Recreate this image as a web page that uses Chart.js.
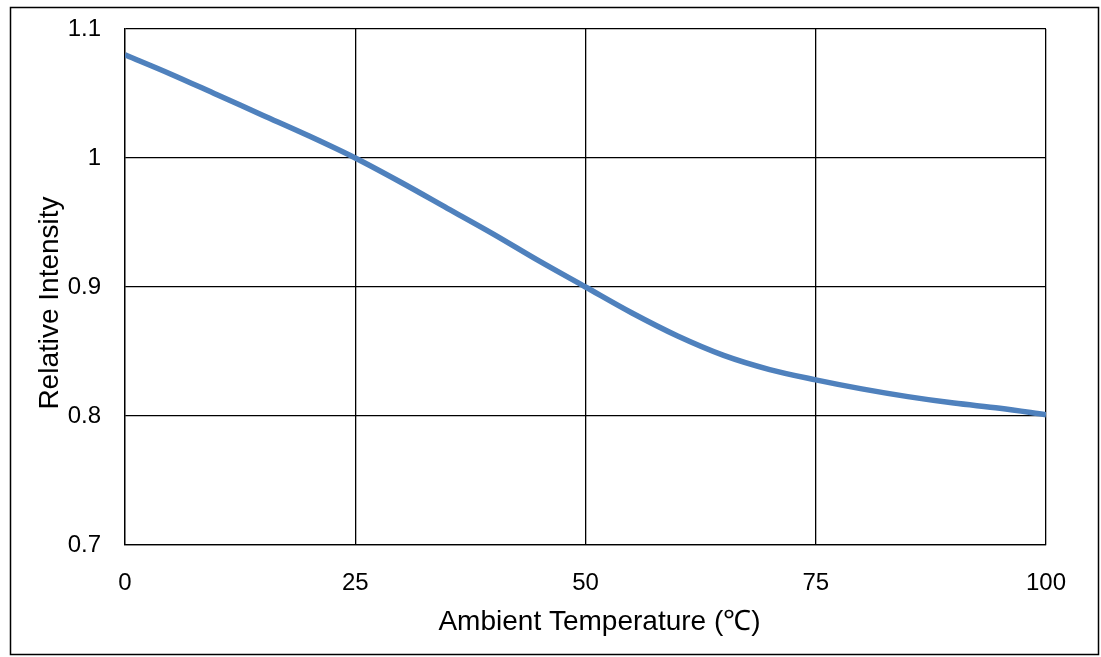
<!DOCTYPE html>
<html><head><meta charset="utf-8">
<script src="https://cdn.jsdelivr.net/npm/chart.js@4.4.1/dist/chart.umd.min.js"></script>
<style>html,body{margin:0;padding:0;background:#fff;}#wrap{position:relative;width:1101px;height:657px;}</style>
</head><body><div id="wrap"><canvas id="c" width="1101" height="657"></canvas></div>
<script>
const temperatures = [0,5,10,15,20,25,30,35,40,45,50,55,60,65,70,75,80,85,90,95,100];
const relativeIntensity = [1.08,1.065,1.049,1.033,1.017,1.0,0.981,0.961,0.941,0.92,0.9,0.88,0.862,0.847,0.836,0.828,0.821,0.815,0.81,0.806,0.801];
const xTicks = [0,25,50,75,100];
const yTicks = [0.7,0.8,0.9,1.0,1.1];
const xTitle = 'Ambient Temperature (\u2103)';
const yTitle = 'Relative Intensity';

const FONT = 'Arial, "Liberation Sans", sans-serif';
const frameAndTitles = {
  id:'frameAndTitles',
  beforeDraw(chart){
    const ctx=chart.ctx; ctx.save();
    ctx.fillStyle='#fff'; ctx.fillRect(0,0,chart.width,chart.height);
    ctx.strokeStyle='#000'; ctx.lineWidth=1.5;
    ctx.strokeRect(10.5,7.5,1088,647);
    ctx.restore();
  },
  afterDraw(chart){
    const ctx=chart.ctx, ca=chart.chartArea; ctx.save();
    ctx.fillStyle='#000'; ctx.font='28px '+FONT;
    ctx.textAlign='center'; ctx.textBaseline='middle';
    ctx.fillText(xTitle,(ca.left+ca.right)/2+14,622);
    ctx.translate(50,(ca.top+ca.bottom)/2+16);
    ctx.rotate(-Math.PI/2);
    ctx.fillText(yTitle,0,0);
    ctx.restore();
  }
};
new Chart(document.getElementById('c'),{
  type:'line',
  data:{datasets:[{data:temperatures.map((t,i)=>({x:t,y:relativeIntensity[i]})),
    borderColor:'#4F81BD',borderWidth:5.5,pointRadius:0,tension:0.4,cubicInterpolationMode:'monotone',fill:false}]},
  options:{
    responsive:false,animation:false,
    layout:{padding:{left:30,right:55,top:29,bottom:20}},
    plugins:{legend:{display:false},tooltip:{enabled:false}},
    scales:{
      x:{type:'linear',min:0,max:100,
        afterBuildTicks(s){s.ticks=xTicks.map(v=>({value:v}));},
        afterFit(s){s.height=92;s.paddingLeft=0;s.paddingRight=0;},
        grid:{color:'#000',lineWidth:1.3,drawTicks:false},
        border:{color:'#000',width:1.3},
        ticks:{color:'#000',padding:24,font:{family:FONT,size:24},maxRotation:0}
      },
      y:{type:'linear',min:0.7,max:1.1,
        afterBuildTicks(s){s.ticks=yTicks.map(v=>({value:v}));},
        afterFit(s){s.width=95;s.paddingTop=0;s.paddingBottom=0;},
        grid:{color:'#000',lineWidth:1.3,drawTicks:false},
        border:{color:'#000',width:1.3},
        ticks:{color:'#000',padding:24,font:{family:FONT,size:24},callback:v=>String(Math.round(v*10)/10)}
      }
    }
  },
  plugins:[frameAndTitles]
});
</script></body></html>
